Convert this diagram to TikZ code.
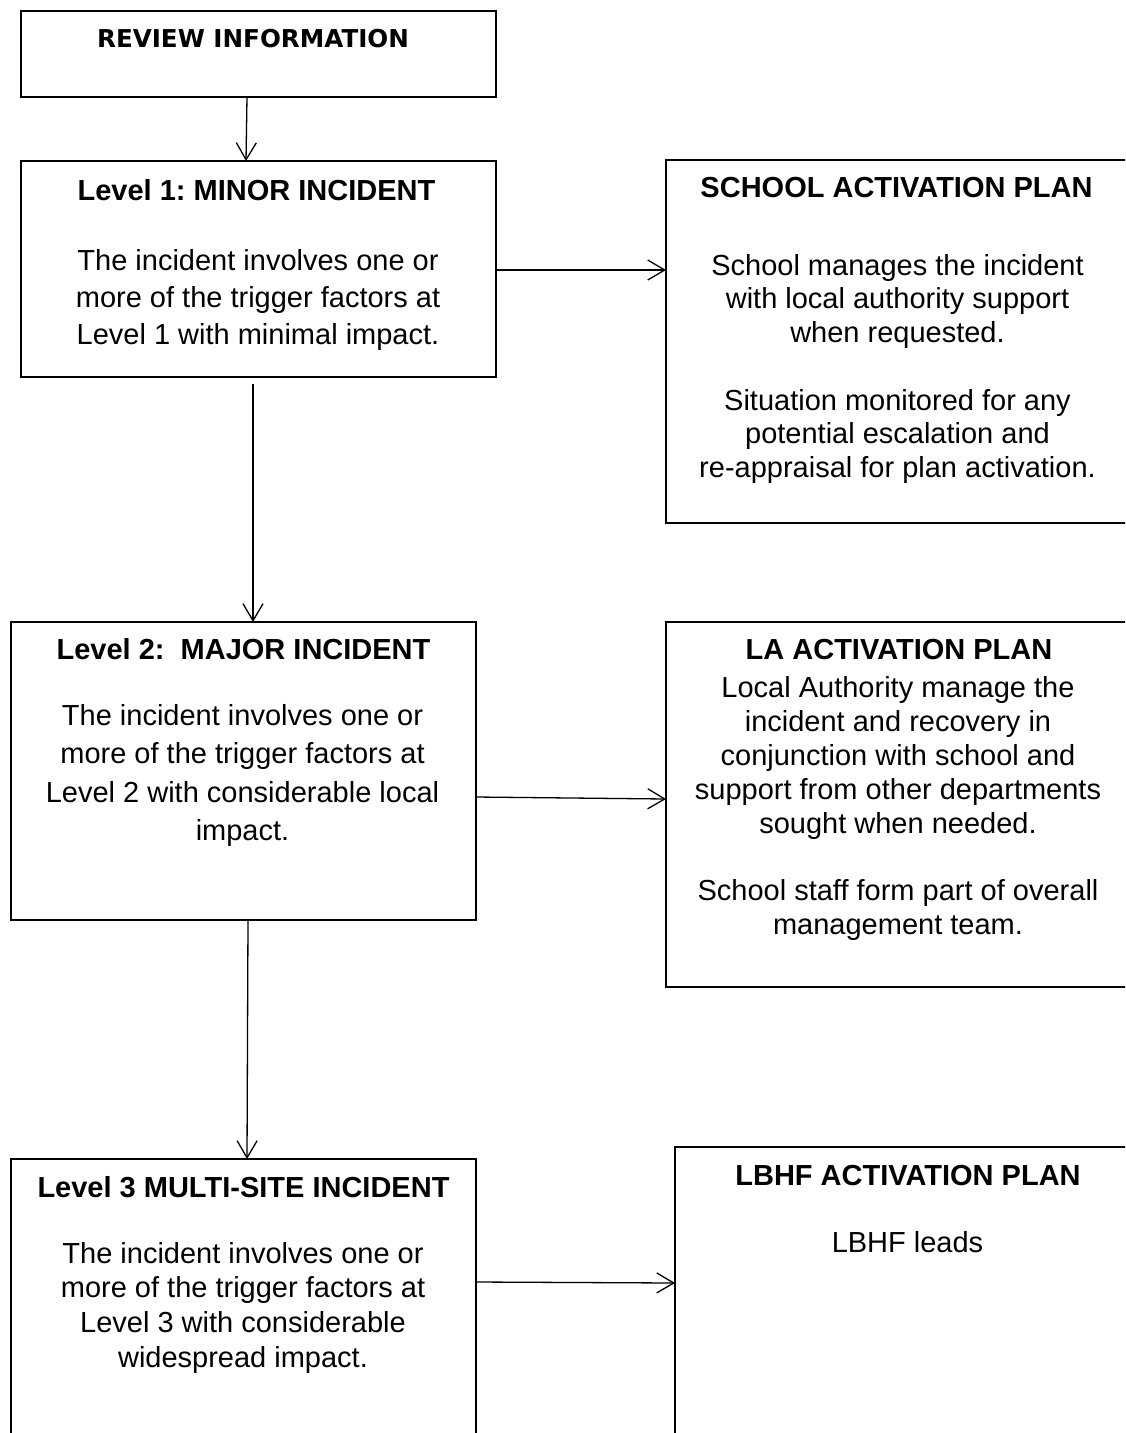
\documentclass[tikz,border=0pt]{standalone}
\usepackage{fontspec}
\setmainfont{Liberation Sans}
\newfontfamily\revfont{DejaVu Sans}
\usetikzlibrary{arrows.meta}
\frenchspacing
\begin{document}
\begin{tikzpicture}[x=1pt,y=-1pt,
  box/.style={draw, line width=1.6pt, rectangle, inner sep=0pt, outer sep=0pt},
  txt/.style={anchor=base, inner sep=0pt, font=\fontsize{29}{34}\selectfont\frenchspacing},
  ttl/.style={anchor=base, inner sep=0pt, font=\fontsize{29}{34}\selectfont\bfseries\frenchspacing},
  conn/.style={line width=1.3pt, -{Straight Barb[length=17pt,width=20pt,line width=1.3pt]}}]
\clip (0,0) rectangle (1125,1433);
\fill[white] (0,0) rectangle (1125,1433);

% boxes
\node[box, minimum width=475pt, minimum height=86pt]  (rev)    at (258.5,54)    {};
\node[box, minimum width=475pt, minimum height=216pt] (l1)     at (258.5,269)   {};
\node[box, minimum width=479pt, minimum height=363pt] (school) at (905.5,341.5) {};
\node[box, minimum width=465pt, minimum height=298pt] (l2)     at (243.5,771)   {};
\node[box, minimum width=479pt, minimum height=365pt] (la)     at (905.5,804.5) {};
\node[box, minimum width=465pt, minimum height=301pt] (l3)     at (243.5,1309.5){};
\node[box, minimum width=470pt, minimum height=313pt] (lbhf)   at (910,1303.5)  {};

% texts
\node[anchor=base, inner sep=0pt, font=\revfont\fontsize{24.6}{28}\selectfont\bfseries] (revt) at (253,47) {REVIEW INFORMATION};

\node[ttl] (l1t) at (256.5,200) {Level 1: MINOR INCIDENT};
\foreach \t [count=\k from 0] in {The incident involves one or, more of the trigger factors at, Level 1 with minimal impact.}
  \node[txt] (l1b\k) at (258,270+37*\k) {\t};

\node[ttl] (schoolt) at (896.5,197) {SCHOOL ACTIVATION PLAN};
\foreach \t [count=\k from 0] in {School manages the incident, with local authority support, when requested.}
  \node[txt] (schoola\k) at (897.5,275+33.8*\k) {\t};
\foreach \t [count=\k from 0] in {Situation monitored for any, potential escalation and, re-appraisal for plan activation.}
  \node[txt] (schoolb\k) at (897.5,410+33.8*\k) {\t};

\node[ttl] (l2t) at (243.5,659) {Level 2:~ MAJOR INCIDENT};
\foreach \t [count=\k from 0] in {The incident involves one or, more of the trigger factors at, Level 2 with considerable local, impact.}
  \node[txt] (l2b\k) at (242.5,725+38.5*\k) {\t};

\node[ttl] (lat) at (899,659) {LA ACTIVATION PLAN};
\foreach \t [count=\k from 0] in {Local Authority manage the, incident and recovery in, conjunction with school and, support from other departments, sought when needed.}
  \node[txt] (laa\k) at (898,697+34*\k) {\t};
\foreach \t [count=\k from 0] in {School staff form part of overall, management team.}
  \node[txt] (lab\k) at (898,900+34*\k) {\t};

\node[ttl] (l3t) at (243.5,1197) {Level 3 MULTI-SITE INCIDENT};
\foreach \t [count=\k from 0] in {The incident involves one or, more of the trigger factors at, Level 3 with considerable, widespread impact.}
  \node[txt] (l3b\k) at (243,1263+34.7*\k) {\t};

\node[ttl] (lbhft) at (908,1185) {LBHF ACTIVATION PLAN};
\node[txt] (lbhfb) at (907.5,1252) {LBHF leads};

% connectors
\draw[conn] ([xshift=-11.5pt]rev.south) -- ([xshift=-12.5pt]l1.north);
\draw[conn] ([yshift=-1pt]l1.east) -- ([yshift=71.5pt]school.west);
\draw[conn] ([xshift=-5.5pt,yshift=-7pt]l1.south) -- ([xshift=9.5pt]l2.north);
\draw[conn] ([yshift=-26pt]l2.east) -- ([yshift=5.5pt]la.west);
\draw[conn] ([xshift=4.5pt]l2.south) -- ([xshift=3.5pt]l3.north);
\draw[conn] ([yshift=27.5pt]l3.east) -- ([yshift=20.5pt]lbhf.west);
\end{tikzpicture}
\end{document}
